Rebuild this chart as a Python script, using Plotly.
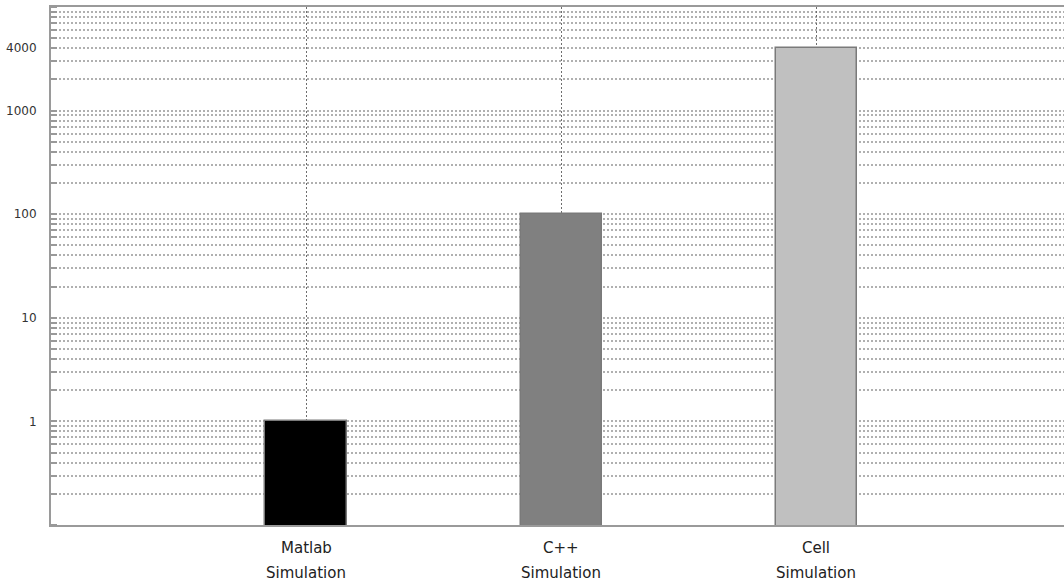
import plotly.graph_objects as go

categories = ["Matlab Simulation", "C++ Simulation", "Cell Simulation"]
label_line1 = ["Matlab", "C++", "Cell"]
label_line2 = ["Simulation", "Simulation", "Simulation"]
values = [1, 100, 4000]
bar_colors = ["#000000", "#808080", "#c0c0c0"]
ytick_vals = [1, 10, 100, 1000, 4000]
ytick_text = ["1", "10", "100", "1000", "4000"]

xpos = list(range(len(categories)))

minor_vals = []
for e in range(-1, 4):
    for m in range(1, 10):
        minor_vals.append(m * 10 ** e)
minor_vals.append(10000)

fig = go.Figure()
fig.add_trace(go.Bar(
    x=xpos, y=values, width=0.32,
    marker=dict(color=bar_colors, line=dict(color="#7a7a7a", width=1.5)),
    showlegend=False,
))

for i in xpos:
    fig.add_annotation(x=i, y=0, xref="x", yref="paper", text=label_line1[i],
                       showarrow=False, yanchor="middle", yshift=-23,
                       font=dict(family="DejaVu Sans", size=15, color="#222"))
    fig.add_annotation(x=i, y=0, xref="x", yref="paper", text=label_line2[i],
                       showarrow=False, yanchor="middle", yshift=-48,
                       font=dict(family="DejaVu Sans", size=15, color="#222"))

fig.update_layout(
    width=1064, height=583,
    margin=dict(l=51, r=0, t=7, b=58),
    plot_bgcolor="white", paper_bgcolor="white",
    bargap=0,
)
fig.update_xaxes(
    range=[-1, 2.97], tickvals=xpos, showticklabels=False,
    showgrid=True, gridcolor="#6e6e6e", gridwidth=1.2, griddash="2px,2px",
    showline=True, linecolor="#9a9a9a", linewidth=2, mirror=True,
    zeroline=False, ticks="",
)
fig.update_yaxes(
    type="log", range=[-1, 4],
    tickvals=ytick_vals, ticktext=ytick_text,
    tickfont=dict(family="DejaVu Sans", size=12, color="#333"),
    ticks="", ticklabelstandoff=10,
    showgrid=False,
    showline=True, linecolor="#9a9a9a", linewidth=2,
    zeroline=False,
    minor=dict(tickvals=minor_vals, showgrid=True, gridcolor="#b0b0b0",
               gridwidth=1.5, griddash="2px,2px", ticks="inside",
               ticklen=6, tickcolor="#999", tickwidth=1.5),
)

fig.write_html("out.html")
